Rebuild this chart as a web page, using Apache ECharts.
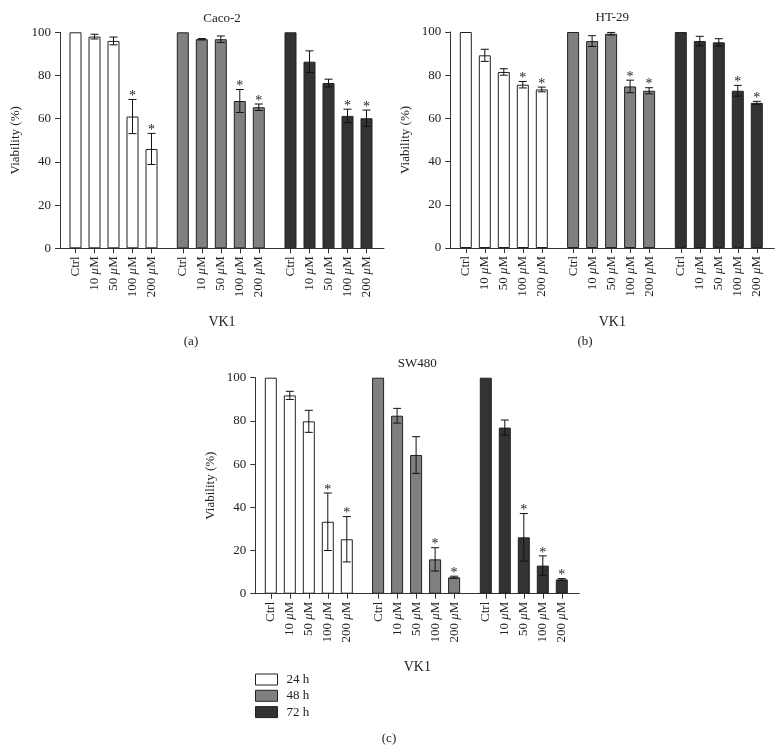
<!DOCTYPE html>
<html>
<head>
<meta charset="utf-8">
<script src="https://cdn.jsdelivr.net/npm/echarts@6/dist/echarts.min.js"></script>
<style>
  html, body { margin: 0; background: #fff; }
  #chart { width: 783px; height: 753px; }
</style>
</head>
<body>
<div id="chart"></div>
<script>
const doses = ["Ctrl", "10 μM", "50 μM", "100 μM", "200 μM"];
const times = ["24 h", "48 h", "72 h"];
const cellLines = ["Caco-2", "HT-29", "SW480"];
const panelTags = ["(a)", "(b)", "(c)"];

// mean viability (%) per time point, one row per 24/48/72 h
const caco2Mean = [[100, 98, 96, 61, 46], [100, 96.8, 96.8, 68.2, 65.3], [100, 86.4, 76.5, 61.3, 60.2]];
const caco2Err = [[0, 1.1, 1.8, 7.9, 7.2], [0, 0.3, 1.5, 5.3, 1.5], [0, 5, 1.8, 3.1, 3.8]];
const caco2Sig = [[0, 0, 0, 1, 1], [0, 0, 0, 1, 1], [0, 0, 0, 1, 1]];

const ht29Mean = [[100, 89.2, 81.5, 75.6, 73.4], [100, 95.8, 99.2, 74.8, 72.8], [100, 95.8, 95.2, 72.8, 67.2]];
const ht29Err = [[0, 2.8, 1.5, 1.5, 1.1], [0, 2.5, 0.6, 2.9, 1.4], [0, 2.2, 1.7, 2.5, 0.7]];
const ht29Sig = [[0, 0, 0, 1, 1], [0, 0, 0, 1, 1], [0, 0, 0, 1, 1]];

const sw480Mean = [[100, 91.8, 79.8, 33.3, 25.2], [100, 82.4, 64.2, 15.9, 7.6], [100, 76.9, 26.1, 13.0, 6.6]];
const sw480Err = [[0, 1.9, 5.1, 13.3, 10.5], [0, 3.4, 8.5, 5.4, 0.5], [0, 3.5, 11, 4.5, 0.4]];
const sw480Sig = [[0, 0, 0, 1, 1], [0, 0, 0, 1, 1], [0, 0, 1, 1, 1]];

const means = [caco2Mean, ht29Mean, sw480Mean];
const errs = [caco2Err, ht29Err, sw480Err];
const sigs = [caco2Sig, ht29Sig, sw480Sig];

// layout
const FONT = '"Liberation Serif", "DejaVu Serif", serif';
const INK = "#222";
const AXIS = "#333";
const panelPos = [[60, 32.3], [450.3, 32], [255.3, 377.7]];
const plotW = 324, plotH = 216;
const groupLeft = [6, 113.3, 221];
const slotW = 19;
const fills = ["#ffffff", "#808080", "#333333"];

const chart = echarts.init(document.getElementById("chart"));

const grid = [], xAxis = [], yAxis = [], series = [], graphic = [];

panelPos.forEach(([x0, top], p) => {
  // background grid: y axis, x axis line, axis names
  grid.push({ left: x0, top, width: plotW, height: plotH });
  xAxis.push({
    gridIndex: grid.length - 1,
    type: "value", min: 0, max: 1,
    axisLine: { show: true, onZero: false, lineStyle: { color: AXIS, width: 1 } },
    axisTick: { show: false }, axisLabel: { show: false }, splitLine: { show: false },
    name: "VK1", nameLocation: "middle", nameGap: 67,
    nameTextStyle: { fontFamily: FONT, fontSize: 14, color: INK },
  });
  yAxis.push({
    gridIndex: grid.length - 1,
    type: "value", min: 0, max: 100, interval: 20,
    axisLine: { show: true, onZero: false, lineStyle: { color: AXIS, width: 1 } },
    axisTick: { show: true, length: 5, lineStyle: { color: AXIS } },
    axisLabel: { margin: 9, fontFamily: FONT, fontSize: 13, color: INK },
    splitLine: { show: false },
    name: "Viability (%)", nameLocation: "middle", nameGap: 38,
    nameTextStyle: { fontFamily: FONT, fontSize: 13, color: INK },
  });

  times.forEach((t, g) => {
    grid.push({ left: x0 + groupLeft[g], top, width: slotW * 5, height: plotH });
    const gi = grid.length - 1;
    xAxis.push({
      gridIndex: gi, type: "category", data: doses,
      axisLine: { show: false },
      axisTick: { show: true, alignWithLabel: true, length: 5, lineStyle: { color: AXIS } },
      axisLabel: {
        rotate: 90, margin: 8, interval: 0,
        fontFamily: FONT, fontSize: 13, color: INK,
        formatter: (v) => v.replace("μ", "{i|μ}"),
        rich: { i: { fontFamily: FONT, fontSize: 13, fontStyle: "italic", color: INK } },
      },
    });
    yAxis.push({ gridIndex: gi, type: "value", min: 0, max: 100, show: false });

    series.push({
      name: t, type: "bar", xAxisIndex: gi, yAxisIndex: gi,
      data: means[p][g], barWidth: 12,
      itemStyle: { color: fills[g], borderColor: INK, borderWidth: 1 },
      emphasis: { disabled: true },
      animation: false,
    });
    series.push({
      type: "custom", xAxisIndex: gi, yAxisIndex: gi, z: 5,
      data: means[p][g].map((m, i) => [i, m, errs[p][g][i], sigs[p][g][i]]),
      renderItem(params, api) {
        const i = api.value(0), m = api.value(1), e = api.value(2), s = api.value(3);
        const hi = api.coord([i, m + e]);
        const lo = api.coord([i, m - e]);
        const kids = [];
        const st = { stroke: "#111", lineWidth: 1 };
        if (e > 0) {
          kids.push({ type: "line", shape: { x1: hi[0], y1: hi[1], x2: lo[0], y2: lo[1] }, style: st });
          kids.push({ type: "line", shape: { x1: hi[0] - 4, y1: hi[1], x2: hi[0] + 4, y2: hi[1] }, style: st });
          kids.push({ type: "line", shape: { x1: lo[0] - 4, y1: lo[1], x2: lo[0] + 4, y2: lo[1] }, style: st });
        }
        if (s) {
          kids.push({
            type: "text", x: hi[0], y: hi[1] - 3,
            style: { text: "*", fontFamily: FONT, fontSize: 14, fill: INK, align: "center", verticalAlign: "middle" },
          });
        }
        return { type: "group", children: kids };
      },
      animation: false,
    });
  });

  graphic.push({
    type: "text", x: x0 + plotW / 2, y: top - 14,
    style: { text: cellLines[p], fontFamily: FONT, fontSize: 13, fill: INK, align: "center", verticalAlign: "middle" },
  });
});

graphic.push(
  { type: "text", x: 191, y: 342, style: { text: panelTags[0], fontFamily: FONT, fontSize: 13, fill: INK, align: "center", verticalAlign: "middle" } },
  { type: "text", x: 585, y: 342, style: { text: panelTags[1], fontFamily: FONT, fontSize: 13, fill: INK, align: "center", verticalAlign: "middle" } },
  { type: "text", x: 389, y: 739, style: { text: panelTags[2], fontFamily: FONT, fontSize: 13, fill: INK, align: "center", verticalAlign: "middle" } }
);

chart.setOption({
  animation: false,
  grid, xAxis, yAxis, series, graphic,
  legend: {
    data: times, orient: "vertical", left: 255, top: 673, padding: 0,
    icon: "rect", itemWidth: 22, itemHeight: 11, itemGap: 3.3,
    selectedMode: false,
    itemStyle: { borderWidth: 1, borderColor: INK },
    textStyle: { fontFamily: FONT, fontSize: 13, color: INK, padding: [0, 0, 0, 4] },
  },
});
</script>
</body>
</html>
